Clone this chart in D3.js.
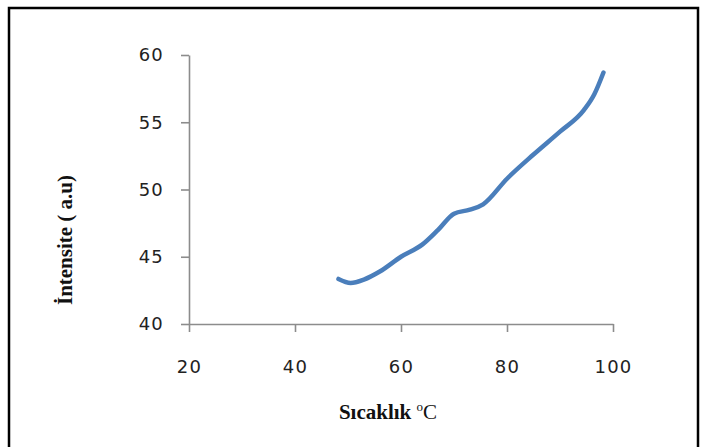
<!DOCTYPE html>
<html>
<head>
<meta charset="utf-8">
<script src="https://cdn.jsdelivr.net/npm/d3@7"></script>
<style>
  body { margin: 0; background: #fff; }
  svg { display: block; }
</style>
</head>
<body>
<svg id="chart" width="705" height="447"></svg>
<script>
// sıcaklık (°C) ve intensite değerleri
const temps = [48.2, 50.5, 53, 56, 60, 64, 67, 70, 73, 75.5, 80, 85, 90, 94.5, 96.5, 98.2];
const intens = [43.35, 43.05, 43.3, 43.9, 45.0, 45.9, 47.0, 48.2, 48.5, 48.9, 50.8, 52.6, 54.3, 55.9, 57.1, 58.7];
const xTicks = [20, 40, 60, 80, 100];
const yTicks = [40, 45, 50, 55, 60];

const svg = d3.select("#chart");

// çerçeve
svg.append("path")
  .attr("d", "M9,447 V8 H698 V447")
  .attr("fill", "none")
  .attr("stroke", "#000")
  .attr("stroke-width", 2.5);

const x = d3.scaleLinear().domain([20, 100]).range([189, 613]);
const y = d3.scaleLinear().domain([40, 60]).range([324, 55]);

const axisColor = "#8c8c8c";
const tickFont = "'DejaVu Sans', Verdana, sans-serif";

// x ekseni
const gx = svg.append("g")
  .attr("transform", `translate(0,${y(40)})`)
  .call(d3.axisBottom(x).tickValues(xTicks).tickSize(8).tickPadding(28).tickSizeOuter(0));

// y ekseni
const gy = svg.append("g")
  .attr("transform", `translate(${x(20)},0)`)
  .call(d3.axisLeft(y).tickValues(yTicks).tickSize(8).tickPadding(17).tickSizeOuter(0));

[gx, gy].forEach((g) => {
  g.select(".domain").attr("stroke", axisColor).attr("stroke-width", 1.6);
  g.selectAll(".tick line").attr("stroke", axisColor).attr("stroke-width", 1.6);
  g.selectAll(".tick text")
    .attr("fill", "#222")
    .style("font-family", tickFont)
    .style("font-size", "18px")
    .style("letter-spacing", "1.2px");
});

// eğri
const line = d3.line()
  .x((d, i) => x(temps[i]))
  .y((d) => y(d))
  .curve(d3.curveMonotoneX);

svg.append("path")
  .datum(intens)
  .attr("d", line)
  .attr("fill", "none")
  .attr("stroke", "#4a7ebb")
  .attr("stroke-width", 4.5)
  .attr("stroke-linecap", "round")
  .attr("stroke-linejoin", "round");

// eksen başlıkları
const xLabel = svg.append("text")
  .attr("x", 388)
  .attr("y", 419)
  .attr("text-anchor", "middle")
  .style("font-family", "'Liberation Serif', 'Times New Roman', serif")
  .style("font-size", "21px")
  .attr("fill", "#111");
xLabel.append("tspan").attr("font-weight", "bold").text("Sıcaklık ");
xLabel.append("tspan").attr("dy", -8).style("font-size", "13px").text("o");
xLabel.append("tspan").attr("dy", 8).text("C");

svg.append("text")
  .attr("transform", "translate(72,240) rotate(-90)")
  .attr("text-anchor", "middle")
  .style("font-family", "'Liberation Serif', 'Times New Roman', serif")
  .style("font-size", "21px")
  .attr("font-weight", "bold")
  .attr("fill", "#111")
  .text("İntensite ( a.u)");
</script>
</body>
</html>
